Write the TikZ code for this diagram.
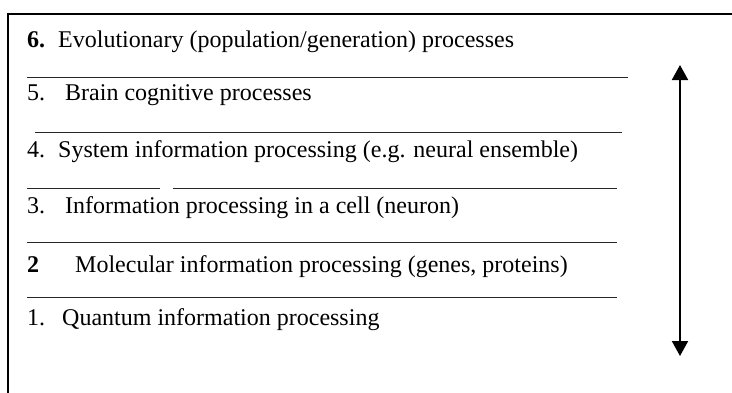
\documentclass[tikz,border=0pt]{standalone}
\usepackage{fontspec}
\setmainfont{Liberation Serif}
\usetikzlibrary{arrows.meta}
\begin{document}
\begin{tikzpicture}[x=1pt,y=-1pt,
  lbl/.style={anchor=base west,inner sep=0pt,font=\fontsize{24}{26}\selectfont},
  rule/.style={line width=1pt,draw=black!85},
  frame/.style={line width=2.2pt},
  dbl/.style={line width=2pt,{Triangle[width=16pt,length=15pt]}-{Triangle[width=16pt,length=15pt]}}]
\useasboundingbox (0,0) rectangle (732,392);
% frame (only top and left edges visible)
\draw[frame] (8,400) -- (8,14) -- (740,14);
% labels
\node[lbl] (n6a) at (27,47) {\textbf{6.}};
\node[lbl] (n6) at (58,47) {Evolutionary (population/generation) processes};
\node[lbl] (n5a) at (27,100) {5.};
\node[lbl] (n5) at (65,100) {Brain cognitive processes};
\node[lbl] (n4a) at (27,157) {4.};
\node[lbl] (n4) at (58,157) {System information processing (e.g. neural ensemble)};
\node[lbl] (n3a) at (27,213) {3.};
\node[lbl] (n3) at (65,213) {Information processing in a cell (neuron)};
\node[lbl] (n2a) at (27,272) {\textbf{2}};
\node[lbl] (n2) at (75,272) {Molecular information processing (genes, proteins)};
\node[lbl] (n1a) at (27,325) {1.};
\node[lbl] (n1) at (62,325) {Quantum information processing};
% separator rules
\coordinate (r1a) at (27,77); \coordinate (r1b) at (628,77);
\coordinate (r2a) at (35,132); \coordinate (r2b) at (622,132);
\coordinate (r3a) at (27,188); \coordinate (r3b) at (160,188);
\coordinate (r3c) at (173,188); \coordinate (r3d) at (617,188);
\coordinate (r4a) at (27,242); \coordinate (r4b) at (617,242);
\coordinate (r5a) at (27,297); \coordinate (r5b) at (617,297);
\draw[rule] (r1a) -- (r1b);
\draw[rule] (r2a) -- (r2b);
\draw[rule] (r3a) -- (r3b);
\draw[rule] (r3c) -- (r3d);
\draw[rule] (r4a) -- (r4b);
\draw[rule] (r5a) -- (r5b);
% arrow
\coordinate (atop) at (680,65);
\coordinate (abot) at (680,356);
\draw[dbl] (abot) -- (atop);
\end{tikzpicture}
\end{document}
